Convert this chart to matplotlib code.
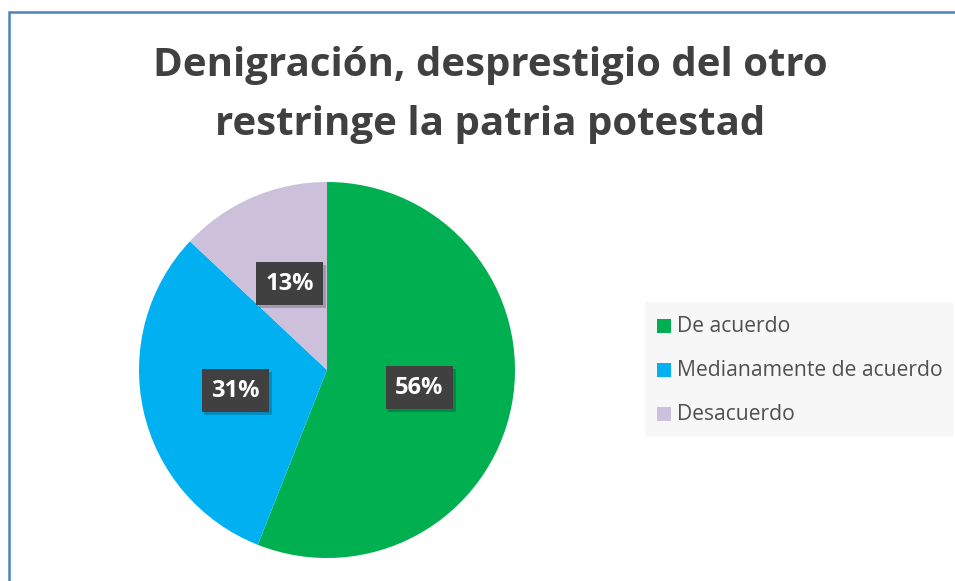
import matplotlib
matplotlib.use("Agg")
import matplotlib.pyplot as plt
import matplotlib.patheffects as pe
from matplotlib.patches import Rectangle

# datos
categorias = ["De acuerdo", "Medianamente de acuerdo", "Desacuerdo"]
valores = [56, 31, 13]
colores = ["#00B050", "#00B0F0", "#CCC0DA"]
titulo = "Denigración, desprestigio del otro\nrestringe la patria potestad"

W, H = 955, 581
plt.rcParams['font.family'] = ['Open Sans', 'DejaVu Sans']

fig = plt.figure(figsize=(W / 100, H / 100), dpi=100)
ax = fig.add_axes([0, 0, 1, 1])

# borde del gráfico
ax.plot([9, 9, W + 5], [-5, H - 12, H - 12], color="#4F81BD", lw=1.8,
        solid_joinstyle="miter")

wedges, textos, pcts = ax.pie(
    valores, colors=colores, startangle=90, counterclock=False,
    center=(327, H - 370), radius=188, frame=True,
    autopct=lambda p: f"{p:.0f}%", pctdistance=0.5,
    textprops=dict(color="white", fontsize=17, fontweight="bold"))
ax.set_xlim(0, W)
ax.set_ylim(0, H)
ax.set_aspect("auto")
ax.axis("off")

for t in pcts:
    t.set_bbox(dict(boxstyle="square,pad=0.4", facecolor="#404040",
                    edgecolor="none"))
    t.get_bbox_patch().set_path_effects(
        [pe.SimplePatchShadow(offset=(2, -2), shadow_rgbFace="black", alpha=0.2),
         pe.Normal()])

ax.text(490, H - 95, titulo, ha="center", va="center", fontsize=29,
        fontweight="bold", color="#404040", linespacing=1.65)

# leyenda
ax.add_patch(Rectangle((645, H - 437), 308, 135, facecolor="#F7F7F7",
                       edgecolor="none"))
ys = [326, 370, 414]
for cat, col, y in zip(categorias, colores, ys):
    ax.add_patch(Rectangle((657, H - y - 7), 14, 14, facecolor=col,
                           edgecolor="none"))
    ax.text(677, H - y, cat, ha="left", va="center", fontsize=15.2,
            color="#505050")

fig.savefig("out.png", dpi=100)
